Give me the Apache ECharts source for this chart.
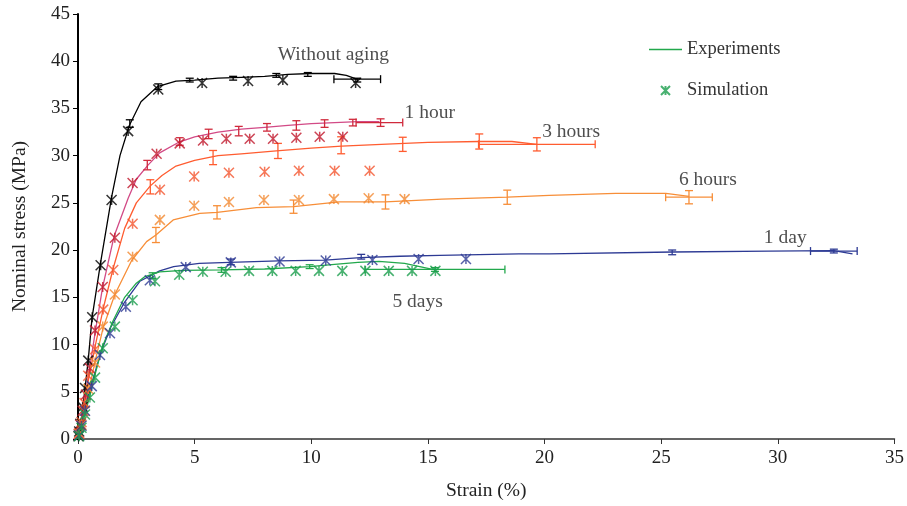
<!DOCTYPE html>
<html><head><meta charset="utf-8">
<script src="https://cdn.jsdelivr.net/npm/echarts@6/dist/echarts.min.js"></script>
<style>html,body{margin:0;padding:0;background:#fff}#c{width:907px;height:506px}</style>
</head><body><div id="c"></div>
<script>
// ---- Data (strain %, stress MPa) ----
const xTicks = [0,5,10,15,20,25,30,35];
const yTicks = [0,5,10,15,20,25,30,35,40,45];

const noAgingExp = [[0,0],[0.1,1.2],[0.2,3.2],[0.3,5.3],[0.44,8.4],[0.6,12.8],[0.97,18.7],[1.44,25.6],[1.8,30.0],[2.2,33.2],[2.7,35.7],[3.4,37.3],[4.2,37.9],[5,38.0],[6,38.2],[7,38.3],[8,38.4],[9,38.6],[10,38.7],[11,38.7],[11.5,38.5],[11.95,38.1]];
const noAgingSim = [[0.02,0.3],[0.05,0.8],[0.1,1.6],[0.2,3.4],[0.3,5.4],[0.44,8.3],[0.61,12.9],[0.97,18.4],[1.44,25.3],[2.15,32.6],[3.44,37.0],[5.32,37.7],[7.29,37.9],[8.78,38.0],[11.9,37.7]];
const noAgingErrV = [[2.22,33.4,0.4],[3.44,37.3,0.3],[4.79,38.0,0.2],[6.65,38.2,0.2],[8.5,38.5,0.2],[9.85,38.6,0.2],[11.97,38.0,0.2]];
const noAgingErrH = [[11.97,38.1,1.0]];

const oneHourExp = [[0,0],[0.1,1.3],[0.3,4.5],[0.5,7.5],[0.75,11.5],[1.05,16],[1.55,21.5],[2.15,25.5],[2.5,27.5],[3,29],[3.5,30.3],[4.3,31.4],[5,32],[6,32.5],[7,32.8],[8,33.0],[9,33.2],[10,33.4],[11,33.5],[12,33.6],[12.92,33.6]];
const oneHourSim = [[0.03,0.5],[0.1,1.5],[0.2,3],[0.34,4.7],[0.51,7.5],[0.73,11.5],[1.06,16.1],[1.58,21.3],[2.34,27.1],[3.37,30.2],[4.36,31.3],[5.36,31.6],[6.36,31.8],[7.36,31.8],[8.36,31.8],[9.36,31.9],[10.36,32.0],[11.35,32.0]];
const oneHourErrV = [[2.97,29.0,0.5],[4.36,31.5,0.4],[5.6,32.3,0.5],[6.89,32.6,0.5],[8.1,33.0,0.4],[9.36,33.2,0.5],[10.57,33.4,0.4],[11.78,33.5,0.35],[12.97,33.5,0.4]];
const oneHourErrH = [[12.92,33.5,1.0]];

const threeHoursExp = [[0,0],[0.2,2.5],[0.45,6.3],[0.75,10],[1.1,14],[1.5,18],[2,22.3],[2.5,25],[3.1,26.8],[3.6,27.9],[4.2,28.9],[5,29.5],[6,30],[7,30.2],[8.5,30.5],[10,30.8],[11.3,31.0],[13,31.2],[15,31.4],[17.2,31.5],[18.6,31.5],[19.67,31.2]];
const threeHoursSim = [[0.05,0.6],[0.15,1.8],[0.28,3.8],[0.44,6.7],[0.73,9.5],[1.08,13.7],[1.51,17.9],[2.34,22.8],[3.51,26.4],[4.98,27.8],[6.47,28.2],[8.0,28.3],[9.47,28.4],[11.0,28.4],[12.5,28.4]];
const threeHoursErrV = [[3.1,26.7,0.75],[5.79,29.8,0.75],[8.57,30.5,0.8],[11.28,31.1,0.9],[13.92,31.2,0.75],[17.2,31.5,0.8],[19.67,31.2,0.7]];
const threeHoursErrH = [[19.67,31.2,2.5]];

const sixHoursExp = [[0,0],[0.2,2],[0.45,5],[0.73,8.2],[1.08,11.8],[1.58,15.3],[2.3,18.9],[2.94,20.9],[3.34,21.6],[4.08,23.2],[5.22,23.9],[5.96,24.0],[7.65,24.5],[9.24,24.6],[11.2,25.1],[13.18,25.1],[15.6,25.4],[18.4,25.6],[20.2,25.8],[23.05,26.0],[25.2,26.0],[26.19,25.7]];
const sixHoursSim = [[0.05,0.5],[0.15,1.5],[0.27,3],[0.45,5.3],[0.73,8.1],[1.06,11.9],[1.58,15.3],[2.34,19.3],[3.51,23.2],[4.98,24.7],[6.47,25.1],[7.97,25.3],[9.47,25.3],[10.97,25.4],[12.46,25.5],[14.0,25.4]];
const sixHoursErrV = [[3.34,21.6,0.8],[5.96,24.0,0.7],[9.24,24.6,0.7],[13.18,25.1,0.75],[18.4,25.6,0.75],[26.19,25.6,0.7]];
const sixHoursErrH = [[26.19,25.6,1.0]];

const oneDayExp = [[0,0],[0.3,3.3],[0.6,6],[1,9.3],[1.4,11.8],[2,14.5],[2.65,16.7],[3.5,17.8],[4.1,18.25],[5.2,18.6],[6.5,18.7],[8.6,18.85],[10.6,18.95],[12.1,19.2],[13.8,19.35],[15.5,19.45],[18.9,19.6],[20.2,19.6],[25.5,19.8],[29.6,19.9],[32.4,19.95],[33.2,19.6]];
const oneDaySim = [[0.05,0.4],[0.15,1.4],[0.3,3],[0.59,5.6],[0.94,8.9],[1.37,11.2],[2.05,14.0],[3.08,16.8],[4.62,18.2],[6.55,18.7],[8.64,18.8],[10.62,18.9],[12.62,18.95],[14.6,19.05],[16.63,19.05]];
const oneDayErrV = [[6.55,18.75,0.3],[12.14,19.3,0.25],[25.47,19.76,0.25],[32.4,19.9,0.2]];
const oneDayErrH = [[32.4,19.9,1.0]];

const fiveDaysExp = [[0,0],[0.2,1.8],[0.5,4.5],[0.75,7],[1.05,9.8],[1.5,12.5],[2,15],[2.5,16.5],[2.87,17.2],[3.5,17.7],[4.5,17.85],[6.15,17.9],[8,18.0],[9.93,18.25],[11,18.5],[12,18.7],[12.9,18.8],[14,18.6],[15.2,17.95]];
const fiveDaysSim = [[0.05,0.3],[0.15,1.2],[0.3,2.6],[0.51,4.4],[0.73,6.5],[1.06,9.6],[1.58,11.9],[2.34,14.7],[3.3,16.7],[4.34,17.4],[5.35,17.7],[6.33,17.7],[7.33,17.8],[8.33,17.8],[9.33,17.8],[10.33,17.8],[11.33,17.8],[12.32,17.8],[13.32,17.8],[14.32,17.8],[15.32,17.8]];
const fiveDaysErrV = [[3.2,17.3,0.3],[6.15,17.9,0.25],[9.93,18.25,0.2],[15.3,17.95,0.2]];
const fiveDaysErrH = [[15.3,17.95,3.0]];

const curveLabels = ['Without aging','1 hour','3 hours','6 hours','1 day','5 days'];
const curveLabelPos = [[8.56,40.7],[14.0,34.5],[19.9,32.5],[25.76,27.46],[29.4,21.25],[13.48,14.5]];

// ---- Styling ----
const FONT = '"Liberation Serif","Times New Roman",serif';
const STAR = 'path://M0,0L10,10M10,0L0,10M5,0L5,10';

function lineSeries(name, data, color){
  return {type:'line', name, data, symbol:'none', showSymbol:false,
    lineStyle:{color, width:1.3}, itemStyle:{color}, silent:true, z:2};
}
function simSeries(name, data, color){
  return {type:'scatter', name, data, symbol:STAR, symbolSize:10,
    itemStyle:{color:'rgba(0,0,0,0)', borderColor:color, borderWidth:1.5}, silent:true, z:4};
}
function errSeries(vData, hData, color){
  const data = vData.map(d=>[0,d[0],d[1],d[2]]).concat(hData.map(d=>[1,d[0],d[1],d[2]]));
  return {type:'custom', data, encode:{x:1,y:2}, silent:true, z:3,
    renderItem:(params, api)=>{
      const kind=api.value(0), x=api.value(1), y=api.value(2), e=api.value(3);
      const st={stroke:color, lineWidth:1.3};
      const c=4;
      const L=(a,b)=>({type:'line', shape:{x1:a[0],y1:a[1],x2:b[0],y2:b[1]}, style:st});
      if(kind===0){
        const p1=api.coord([x,y-e]), p2=api.coord([x,y+e]);
        return {type:'group', children:[L(p1,p2), L([p1[0]-c,p1[1]],[p1[0]+c,p1[1]]), L([p2[0]-c,p2[1]],[p2[0]+c,p2[1]])]};
      } else {
        const p1=api.coord([x-e,y]), p2=api.coord([x+e,y]);
        return {type:'group', children:[L(p1,p2), L([p1[0],p1[1]-c],[p1[0],p1[1]+c]), L([p2[0],p2[1]-c],[p2[0],p2[1]+c])]};
      }
    }};
}

const C = {
  black:'#000000',
  h1Line:'#d24a86', h1Mark:'#c0182c', h1Err:'#d02a3c',
  h3Line:'#ff5c30', h3Mark:'#f4552e',
  h6Line:'#f78e38', h6Mark:'#f3882f',
  d1:'#2d3a94',
  d5Line:'#22a84c', d5Mark:'#1a9e4c'
};

const series = [
  lineSeries('noAgingExp', noAgingExp, C.black),
  errSeries(noAgingErrV, noAgingErrH, C.black),
  simSeries('noAgingSim', noAgingSim, C.black),

  lineSeries('oneHourExp', oneHourExp, C.h1Line),
  errSeries(oneHourErrV, oneHourErrH, C.h1Err),
  simSeries('oneHourSim', oneHourSim, C.h1Mark),

  lineSeries('threeHoursExp', threeHoursExp, C.h3Line),
  errSeries(threeHoursErrV, threeHoursErrH, C.h3Line),
  simSeries('threeHoursSim', threeHoursSim, C.h3Mark),

  lineSeries('sixHoursExp', sixHoursExp, C.h6Line),
  errSeries(sixHoursErrV, sixHoursErrH, C.h6Line),
  simSeries('sixHoursSim', sixHoursSim, C.h6Mark),

  lineSeries('oneDayExp', oneDayExp, C.d1),
  errSeries(oneDayErrV, oneDayErrH, C.d1),
  simSeries('oneDaySim', oneDaySim, C.d1),

  lineSeries('Experiments', fiveDaysExp, C.d5Line),
  errSeries(fiveDaysErrV, fiveDaysErrH, C.d5Line),
  simSeries('Simulation', fiveDaysSim, C.d5Mark),

  {type:'scatter', name:'labels', symbolSize:0, silent:true, z:5,
   data: curveLabels.map((n,i)=>({name:n, value:curveLabelPos[i]})),
   label:{show:true, position:'right', distance:0, formatter:p=>p.name,
     fontFamily:FONT, fontSize:19.5, color:'#222'}}
];

const chart = echarts.init(document.getElementById('c'), null, {renderer:'canvas'});
chart.setOption({
  animation:false,
  backgroundColor:'#fff',
  grid:{left:78, right:11, top:14, bottom:64.5, containLabel:false},
  legend:{data:[{name:'Experiments', icon:'path://M0,0L33,0L33,1.4L0,1.4Z'}, {name:'Simulation'}],
    orient:'vertical', left:644, top:35,
    itemWidth:33, itemHeight:9, itemGap:22, selectedMode:false,
    textStyle:{fontFamily:FONT, fontSize:18.5, color:'#333'}},
  xAxis:{type:'value', min:xTicks[0], max:xTicks[xTicks.length-1], interval:5,
    name:'Strain (%)', nameLocation:'middle', nameGap:42,
    nameTextStyle:{fontFamily:FONT, fontSize:19.5, color:'#222'},
    axisLine:{show:true, lineStyle:{color:'#333', width:1.5}},
    axisTick:{show:true, length:5, lineStyle:{color:'#333'}},
    axisLabel:{fontFamily:FONT, fontSize:19, color:'#222', margin:10},
    splitLine:{show:false}},
  yAxis:{type:'value', min:yTicks[0], max:yTicks[yTicks.length-1], interval:5,
    name:'Nominal stress (MPa)', nameLocation:'middle', nameGap:48,
    nameTextStyle:{fontFamily:FONT, fontSize:19.5, color:'#222'},
    axisLine:{show:true, lineStyle:{color:'#000', width:2}},
    axisTick:{show:true, length:5, lineStyle:{color:'#000'}},
    axisLabel:{fontFamily:FONT, fontSize:19, color:'#222', margin:8},
    splitLine:{show:false}},
  series
});
</script>
</body></html>
